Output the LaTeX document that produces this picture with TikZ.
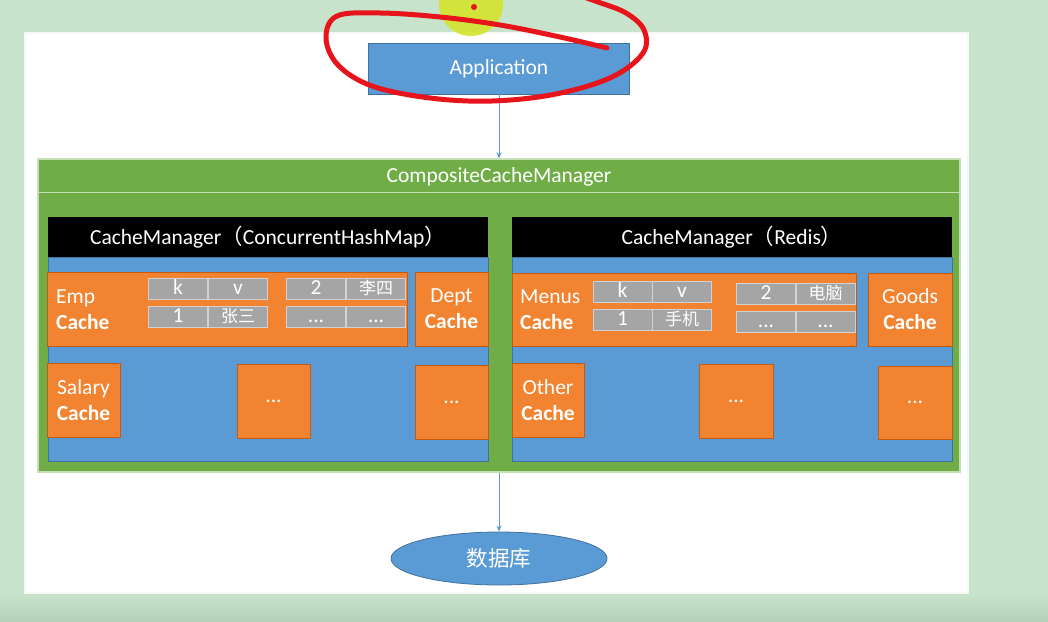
\documentclass[tikz,border=0pt]{standalone}
\usepackage{fontspec}
\setmainfont{Carlito}
\newfontfamily\cjk{Noto Sans CJK SC}
\usetikzlibrary{shapes.geometric,arrows.meta}

\definecolor{bggreen}{HTML}{C8E3CC}
\definecolor{bgdark}{HTML}{B2D0B8}
\definecolor{appblue}{HTML}{5B9BD5}
\definecolor{appedge}{HTML}{41719C}
\definecolor{cmgreen}{HTML}{70AD47}
\definecolor{cmedge}{HTML}{C5E0B4}
\definecolor{cacheorange}{HTML}{F28330}
\definecolor{cacheedge}{HTML}{C55A11}
\definecolor{cellgray}{HTML}{A5A5A5}
\definecolor{celledge}{HTML}{D2D2D2}
\definecolor{penred}{HTML}{E8141B}
\definecolor{hilite}{HTML}{D4E52C}

\newcommand{\cellcjk}{\cjk\fontsize{17}{19}\selectfont}

\tikzset{
  every node/.style={font=\fontsize{21.5}{26}\selectfont, text=white, inner sep=0pt},
  bluebox/.style={rectangle, fill=appblue, draw=appedge, line width=0.8pt},
  cachebox/.style={rectangle, fill=cacheorange, draw=cacheedge, line width=0.8pt, align=center},
  cellbox/.style={rectangle, fill=cellgray, draw=celledge, line width=0.8pt,
    minimum width=59, minimum height=21, text height=14pt, text depth=3pt},
  headbox/.style={rectangle, fill=black, minimum width=440, minimum height=40},
  conn/.style={draw=appblue, line width=1pt, -{Stealth[length=6pt,width=5pt]}},
}

\begin{document}
\begin{tikzpicture}[x=1pt, y=-1pt]
  \useasboundingbox (0,0) rectangle (1048,621);
  % screen and slide
  \fill[bggreen] (0,0) rectangle (1048,621);
  \shade[top color=bggreen, bottom color=bgdark] (0,594) rectangle (1048,621);
  \draw[fill=white, draw=white!80!bggreen, line width=1.5pt] (25,33) rectangle (968,593);
  % application
  \node[bluebox, minimum width=261, minimum height=51] (app) at (499,68.5) {Application};
  % composite manager
  \node[rectangle, fill=cmgreen, draw=cmedge, line width=1.5pt,
    minimum width=922, minimum height=313] (comp) at (499,315.5) {};
  \node (comptitle) at (499,177) {CompositeCacheManager};
  \draw[cmedge, line width=1.2pt] (38,192.5) -- (960,192.5);
  % left cache manager
  \node[bluebox, minimum width=440, minimum height=204] (leftbody) at (268,359) {};
  \node[headbox] (lefthead) at (268,237) {CacheManager{\cjk （}ConcurrentHashMap{\cjk ）}};
  \node[cachebox, minimum width=360, minimum height=74] (empcache) at (227,309) {};
  \node[anchor=west, align=left] (emptext) at (56,309.5) {Emp\\\textbf{Cache}};
  \node[cellbox] (empk) at (178,288.5) {k};
  \node[cellbox] (empv) at (238,288.5) {v};
  \node[cellbox] (empk1) at (178,317) {1};
  \node[cellbox] (empv1) at (238,317) {\cellcjk 张三};
  \node[cellbox] (empk2) at (316,288.5) {2};
  \node[cellbox] (empv2) at (376,288.5) {\cellcjk 李四};
  \node[cellbox] (empk3) at (316,317) {...};
  \node[cellbox] (empv3) at (376,317) {...};
  \node[cachebox, minimum width=73, minimum height=74] (deptcache) at (451.5,309) {Dept\\\textbf{Cache}};
  \node[cachebox, minimum width=73, minimum height=74] (salarycache) at (83.5,400) {Salary\\\textbf{Cache}};
  \node[cachebox, minimum width=73, minimum height=74] (leftmore) at (273.5,401) {...};
  \node[cachebox, minimum width=73, minimum height=74] (leftlast) at (451.5,402) {...};
  % right cache manager
  \node[bluebox, minimum width=440, minimum height=204] (rightbody) at (732,359) {};
  \node[headbox] (righthead) at (732,237) {CacheManager{\cjk （}Redis{\cjk ）}};
  \node[cachebox, minimum width=344, minimum height=73] (menuscache) at (684,309.5) {};
  \node[anchor=west, align=left] (menustext) at (520,309.5) {Menus\\\textbf{Cache}};
  \node[cellbox] (menuk) at (622.5,292) {k};
  \node[cellbox] (menuv) at (682,292) {v};
  \node[cellbox] (menuk1) at (622.5,320) {1};
  \node[cellbox] (menuv1) at (682,320) {\cellcjk 手机};
  \node[cellbox] (menuk2) at (766,293.5) {2};
  \node[cellbox] (menuv2) at (825.5,293.5) {\cellcjk 电脑};
  \node[cellbox] (menuk3) at (766,322) {...};
  \node[cellbox] (menuv3) at (825.5,322) {...};
  \node[cachebox, minimum width=84, minimum height=73] (goodscache) at (910,309.5) {Goods\\\textbf{Cache}};
  \node[cachebox, minimum width=72, minimum height=74] (othercache) at (548,400) {Other\\\textbf{Cache}};
  \node[cachebox, minimum width=74, minimum height=74] (rightmore) at (736,401) {...};
  \node[cachebox, minimum width=74, minimum height=73] (rightlast) at (915,402.5) {...};
  % database
  \node[ellipse, fill=appblue, draw=appedge, line width=0.8pt,
    minimum width=216, minimum height=53] (db) at (499,558.5) {\cjk 数据库};
  % connectors
  \draw[conn] (app.south) -- (app.south |- comp.north);
  \draw[conn] (comp.south) -- (db.north);
  % pen marks
  \fill[hilite, opacity=0.9] (471,4) circle[radius=32];
  \fill[penred] (474,7) circle[radius=3];
  \draw[penred, line width=5pt, line cap=round, line join=round]
    plot[smooth, tension=0.6] coordinates {(607,48) (560,37) (500,25) (440,17) (380,13)
      (337,16) (326,38) (338,65) (372,86) (430,98) (492,101) (556,94) (612,77)
      (643,53) (644,30) (626,13) (598,2) (575,-6)};
\end{tikzpicture}
\end{document}
